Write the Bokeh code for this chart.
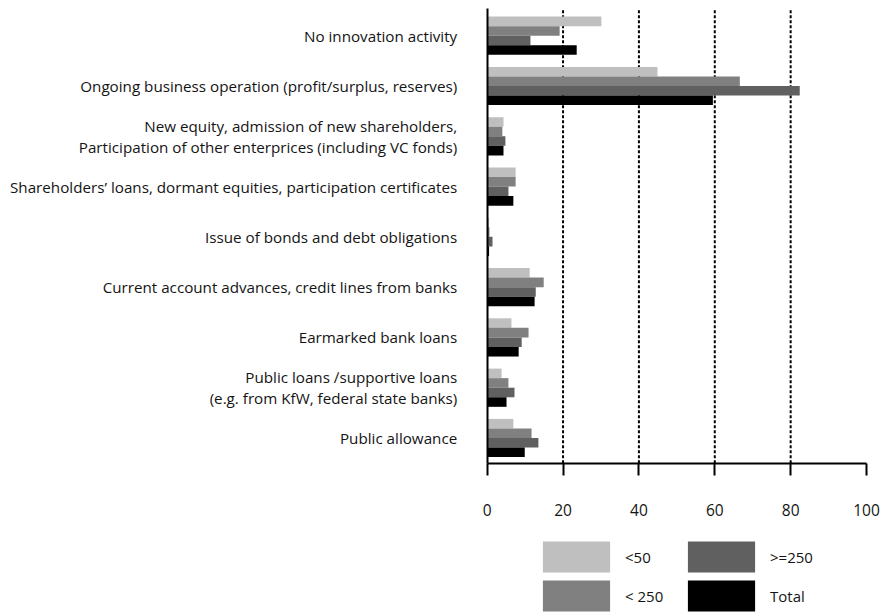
from bokeh.plotting import figure
from bokeh.models import (Range1d, FixedTicker, Legend, LegendItem, ColumnDataSource)
from bokeh.transform import dodge
from bokeh.embed import file_html
from bokeh.resources import INLINE

categories = [
    "No innovation activity",
    "Ongoing business operation (profit/surplus, reserves)",
    "New equity, admission of new shareholders,\nParticipation of other enterprices (including VC fonds)",
    "Shareholders\u2019 loans, dormant equities, participation certificates",
    "Issue of bonds and debt obligations",
    "Current account advances, credit lines from banks",
    "Earmarked bank loans",
    "Public loans \u2215supportive loans\n(e.g. from KfW, federal state banks)",
    "Public allowance",
]
series_names = ["<50", "< 250", ">=250", "Total"]
lt50 = [30.1, 44.9, 4.3, 7.5, 0.5, 11.2, 6.4, 3.8, 6.9]
lt250 = [19.1, 66.6, 4.0, 7.5, 0.6, 14.9, 10.9, 5.6, 11.7]
ge250 = [11.4, 82.4, 4.8, 5.6, 1.4, 12.8, 9.1, 7.2, 13.5]
total = [23.6, 59.5, 4.3, 6.9, 0.5, 12.5, 8.3, 5.1, 9.9]
x_ticks = [0, 20, 40, 60, 80, 100]
grid_ticks = [20, 40, 60, 80]

colors = ["#bfbfbf", "#808080", "#606060", "#000000"]
offsets = [0.285, 0.095, -0.095, -0.285]
FONT = "Open Sans"
TEXT = "#141414"

n = len(categories)
ypos = [float(n - 1 - i) for i in range(n)]  # first category at the top
Y_FRAME_TOP = 8.70
Y_LINE_TOP = 8.54
Y_AXIS = -0.5
Y_FRAME_BOTTOM = -3.47
X_FRAME_LEFT = -128.3
X_FRAME_RIGHT = 103.95

src = ColumnDataSource(dict(y=ypos, s0=lt50, s1=lt250, s2=ge250, s3=total))

# the frame fills the whole canvas; axes are placed at fixed data locations
p = figure(width=881, height=612, output_backend="svg", toolbar_location=None,
           y_range=Range1d(Y_FRAME_BOTTOM, Y_FRAME_TOP),
           x_range=Range1d(X_FRAME_LEFT, X_FRAME_RIGHT),
           min_border_left=0, min_border_right=0, min_border_top=0, min_border_bottom=0)
p.outline_line_color = None
p.background_fill_color = "white"
p.border_fill_color = "white"
p.xgrid.grid_line_color = None
p.ygrid.grid_line_color = None

# dotted vertical grid lines, only down to the x axis
p.segment(x0=grid_ticks, x1=grid_ticks, y0=[Y_AXIS] * len(grid_ticks),
          y1=[Y_LINE_TOP] * len(grid_ticks), line_color="black", line_width=2, line_dash="3 2")

renderers = []
for i, key in enumerate(["s0", "s1", "s2", "s3"]):
    r = p.hbar(y=dodge("y", offsets[i]), right=key, left=0, height=0.19,
               source=src, fill_color=colors[i], line_color=None)
    renderers.append(r)

xa = p.xaxis[0]
xa.fixed_location = Y_AXIS
xa.bounds = (x_ticks[0], x_ticks[-1])
xa.ticker = FixedTicker(ticks=x_ticks)
xa.axis_line_width = 2
xa.axis_line_color = "black"
xa.major_tick_out = 12
xa.major_tick_in = 0
xa.major_tick_line_width = 2
xa.minor_tick_line_color = None
xa.major_label_standoff = 29
xa.major_label_text_font = FONT
xa.major_label_text_font_size = "15.5px"
xa.major_label_text_color = TEXT

ya = p.yaxis[0]
ya.fixed_location = 0
ya.ticker = FixedTicker(ticks=ypos)
ya.major_label_overrides = {y: c for y, c in zip(ypos, categories)}
ya.bounds = (Y_AXIS, Y_LINE_TOP)
ya.axis_line_color = "black"
ya.axis_line_width = 2
ya.major_tick_line_color = None
ya.major_tick_out = 0
ya.major_tick_in = 0
ya.minor_tick_line_color = None
ya.major_label_standoff = 30
ya.major_label_text_font = FONT
ya.major_label_text_font_size = "15.2px"
ya.major_label_text_color = TEXT
ya.major_label_text_line_height = 1.07

items = [LegendItem(label=series_names[i], renderers=[renderers[i]]) for i in range(4)]
legend = Legend(items=items, location=(534, -3), ncols=2,
                glyph_width=84, glyph_height=39, label_standoff=7, spacing=0,
                label_width=54, padding=0, margin=0,
                border_line_color=None, background_fill_alpha=0,
                label_text_font=FONT, label_text_font_size="15px", label_text_color=TEXT)
p.add_layout(legend, "center")

open("out.html", "w").write(file_html(p, INLINE))
